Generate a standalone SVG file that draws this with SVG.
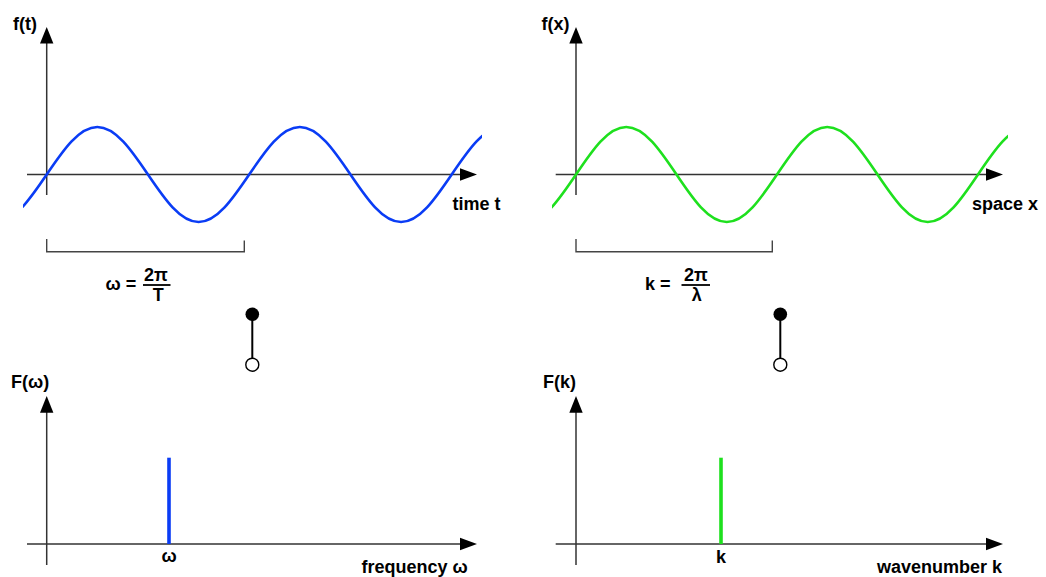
<svg xmlns="http://www.w3.org/2000/svg" width="1046" height="577" viewBox="0 0 1046 577">
<style>
.axis{stroke:#333;stroke-width:1.5;fill:none}
.brk{stroke:#444;stroke-width:1.4;fill:none}
.head{fill:#000}
.lbl{font-family:"Liberation Sans",Arial,sans-serif;font-weight:bold;font-size:18px;fill:#000}
.mid{text-anchor:middle}
.blue{stroke:#0a3cf5;fill:none}
.green{stroke:#1ee01e;fill:none}
.wave{stroke-width:2.6}
.spike{stroke-width:3.6}
.conn{stroke:#000;stroke-width:2;fill:none}
</style>
<defs>
<clipPath id="clipL"><rect x="23" y="100" width="459" height="140"/></clipPath>
<clipPath id="clipR"><rect x="552" y="100" width="456" height="140"/></clipPath>
</defs>

<g id="panel-time">
<line class="axis" x1="46.7" y1="40" x2="46.7" y2="195"/>
<polygon class="head" points="46.7,27 40,43.5 53.4,43.5"/>
<line class="axis" x1="27" y1="174.5" x2="462" y2="174.5"/>
<polygon class="head" points="477,174.5 460,168.3 460,180.7"/>
<text class="lbl" x="13" y="30">f(t)</text>
<text class="lbl" x="452.5" y="210">time t</text>
<path class="blue wave" clip-path="url(#clipL)" d="M -3.925,222 c 18.33,0 34.12,-23.17 50.625,-47.5 c 16.51,-24.33 32.3,-47.5 50.625,-47.5 c 18.33,0 34.12,23.17 50.625,47.5 c 16.51,24.33 32.3,47.5 50.625,47.5 c 18.33,0 34.12,-23.17 50.625,-47.5 c 16.51,-24.33 32.3,-47.5 50.625,-47.5 c 18.33,0 34.12,23.17 50.625,47.5 c 16.51,24.33 32.3,47.5 50.625,47.5 c 18.33,0 34.12,-23.17 50.625,-47.5 c 16.51,-24.33 32.3,-47.5 50.625,-47.5"/>
<path class="brk" d="M 46.7,239 V 251.8 H 244.3 V 240.5"/>
<text class="lbl" x="105.5" y="290">ω =</text>
<text class="lbl mid" x="156" y="281">2π</text>
<line x1="143" y1="285" x2="170.5" y2="285" stroke="#000" stroke-width="1.8"/>
<text class="lbl mid" x="158.3" y="301">T</text>
</g>

<g id="panel-space">
<line class="axis" x1="576" y1="40" x2="576" y2="195"/>
<polygon class="head" points="576,27 569.3,43.5 582.7,43.5"/>
<line class="axis" x1="555.7" y1="174.5" x2="988" y2="174.5"/>
<polygon class="head" points="1003,174.5 986,168.3 986,180.7"/>
<text class="lbl" x="541.5" y="30">f(x)</text>
<text class="lbl" x="972" y="210">space x</text>
<path class="green wave" clip-path="url(#clipR)" d="M 525.75,222 c 18.19,0 33.86,-23.17 50.25,-47.5 c 16.39,-24.33 32.06,-47.5 50.25,-47.5 c 18.19,0 33.86,23.17 50.25,47.5 c 16.39,24.33 32.06,47.5 50.25,47.5 c 18.19,0 33.86,-23.17 50.25,-47.5 c 16.39,-24.33 32.06,-47.5 50.25,-47.5 c 18.19,0 33.86,23.17 50.25,47.5 c 16.39,24.33 32.06,47.5 50.25,47.5 c 18.19,0 33.86,-23.17 50.25,-47.5 c 16.39,-24.33 32.06,-47.5 50.25,-47.5"/>
<path class="brk" d="M 576,239 V 251.8 H 772.3 V 240.5"/>
<text class="lbl" x="645" y="290">k =</text>
<text class="lbl mid" x="696" y="281">2π</text>
<line x1="681.5" y1="285" x2="710" y2="285" stroke="#000" stroke-width="1.8"/>
<text class="lbl mid" x="696.7" y="301">λ</text>
</g>

<g id="panel-frequency">
<line class="axis" x1="46.7" y1="410" x2="46.7" y2="565"/>
<polygon class="head" points="46.7,396 40,412.7 53.4,412.7"/>
<line class="axis" x1="27" y1="544" x2="462" y2="544"/>
<polygon class="head" points="477,544 460,537.8 460,550.2"/>
<line class="blue spike" x1="169" y1="457.7" x2="169" y2="544"/>
<text class="lbl" x="11" y="388">F(ω)</text>
<text class="lbl mid" x="169" y="562">ω</text>
<text class="lbl" x="361.5" y="573">frequency ω</text>
</g>

<g id="panel-wavenumber">
<line class="axis" x1="576" y1="410" x2="576" y2="565"/>
<polygon class="head" points="576,396 569.3,412.7 582.7,412.7"/>
<line class="axis" x1="555.7" y1="544" x2="988" y2="544"/>
<polygon class="head" points="1003,544 986,537.8 986,550.2"/>
<line class="green spike" x1="721" y1="457.7" x2="721" y2="544"/>
<text class="lbl" x="543" y="388">F(k)</text>
<text class="lbl mid" x="721" y="563">k</text>
<text class="lbl" x="877" y="573">wavenumber k</text>
</g>

<g id="connectors">
<line class="conn" x1="252.3" y1="314.3" x2="252.3" y2="358"/>
<circle cx="252.3" cy="314.3" r="6.8" fill="#000"/>
<circle cx="252.3" cy="364.7" r="6.5" fill="#fff" stroke="#000" stroke-width="1.4"/>
<line class="conn" x1="780.3" y1="314.3" x2="780.3" y2="358"/>
<circle cx="780.3" cy="314.3" r="6.8" fill="#000"/>
<circle cx="780.3" cy="364.7" r="6.5" fill="#fff" stroke="#000" stroke-width="1.4"/>
</g>
</svg>
